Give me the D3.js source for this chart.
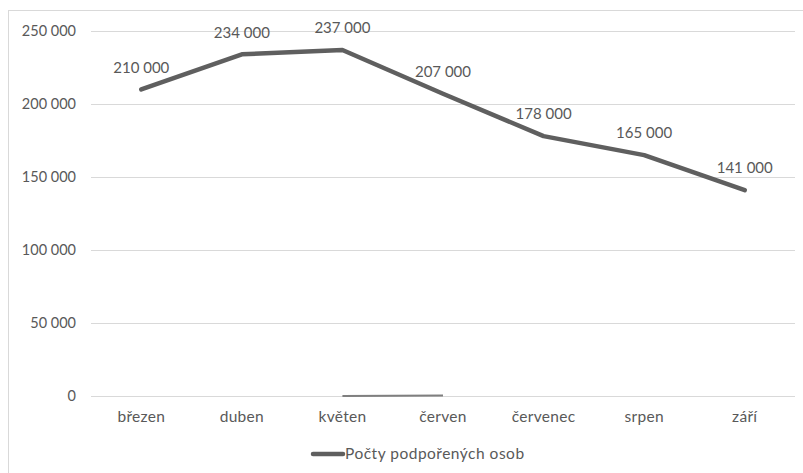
<!DOCTYPE html>
<html lang="cs">
<head>
    <meta charset="UTF-8">
    <title>Počty podpořených osob</title>
    <script src="https://cdnjs.cloudflare.com/ajax/libs/d3/7.8.5/d3.min.js"></script>
    <style>
        body { margin: 0; background: #fff; }
        text { font-family: Lato, "Open Sans", sans-serif; fill: #595959; }
    </style>
</head>
<body>
    <div id="chart"></div>
    <script>
        // data
        const months = ['březen', 'duben', 'květen', 'červen', 'červenec', 'srpen', 'září'];
        const persons = [210000, 234000, 237000, 207000, 178000, 165000, 141000];
        // short unnamed series near zero (květen - červen)
        const minor = [null, null, 0, 400, null, null, null];
        const yTicks = [0, 50000, 100000, 150000, 200000, 250000];
        const seriesName = 'Počty podpořených osob';

        const width = 803, height = 473;
        const plotLeft = 91, plotRight = 795, plotTop = 31, plotBottom = 396;

        const svg = d3.select('#chart')
            .append('svg')
            .attr('width', width)
            .attr('height', height);

        // chart frame (cut off on right and bottom)
        svg.append('rect')
            .attr('x', 8.5).attr('y', 10.5)
            .attr('width', width).attr('height', height)
            .attr('fill', 'none')
            .attr('stroke', '#d9d9d9');

        const x = d3.scaleBand().domain(months).range([plotLeft, plotRight]);
        const y = d3.scaleLinear().domain([0, 250000]).range([plotBottom, plotTop]);

        const fmt = n => d3.format(',')(n).replace(/,/g, '\u00a0');

        // gridlines + y labels
        const yAxis = d3.axisLeft(y)
            .tickValues(yTicks)
            .tickSize(-(plotRight - plotLeft))
            .tickPadding(15)
            .tickFormat(fmt);
        const gy = svg.append('g')
            .attr('transform', `translate(${plotLeft},0)`)
            .call(yAxis);
        gy.select('.domain').remove();
        gy.selectAll('.tick line').attr('stroke', '#d9d9d9');
        gy.selectAll('.tick text').attr('font-size', 14.5).style('fill', '#595959');

        // x labels
        const gx = svg.append('g')
            .attr('transform', `translate(0,${plotBottom})`)
            .call(d3.axisBottom(x).tickSize(0).tickPadding(15));
        gx.select('.domain').remove();
        gx.selectAll('.tick text')
            .attr('font-size', 15.5)
            .attr('letter-spacing', 0.3)
            .style('fill', '#595959');

        const cx = d => x(d) + x.bandwidth() / 2;

        // minor series
        const minorLine = d3.line()
            .defined(d => d[1] !== null)
            .x(d => cx(d[0]))
            .y(d => y(d[1]));
        svg.append('path')
            .datum(months.map((m, i) => [m, minor[i]]))
            .attr('d', minorLine)
            .attr('fill', 'none')
            .attr('stroke', '#7f7f7f')
            .attr('stroke-width', 2);

        // main series
        const line = d3.line()
            .x(d => cx(d[0]))
            .y(d => y(d[1]));
        svg.append('path')
            .datum(months.map((m, i) => [m, persons[i]]))
            .attr('d', line)
            .attr('fill', 'none')
            .attr('stroke', '#5f5f5f')
            .attr('stroke-width', 4.5)
            .attr('stroke-linejoin', 'round')
            .attr('stroke-linecap', 'round');

        // data labels
        svg.selectAll('.dl')
            .data(persons)
            .enter()
            .append('text')
            .attr('class', 'dl')
            .attr('x', (d, i) => cx(months[i]))
            .attr('y', d => y(d) - 22)
            .attr('dy', '0.35em')
            .attr('text-anchor', 'middle')
            .attr('font-size', 15)
            .text(fmt);

        // legend
        const lg = svg.append('g').attr('transform', 'translate(313,454)');
        lg.append('line')
            .attr('x1', 0).attr('x2', 30)
            .attr('stroke', '#5f5f5f')
            .attr('stroke-width', 4.5)
            .attr('stroke-linecap', 'round');
        lg.append('text')
            .attr('x', 32)
            .attr('dy', '0.35em')
            .attr('font-size', 15.5)
            .attr('letter-spacing', 0.5)
            .text(seriesName);
    </script>
</body>
</html>
